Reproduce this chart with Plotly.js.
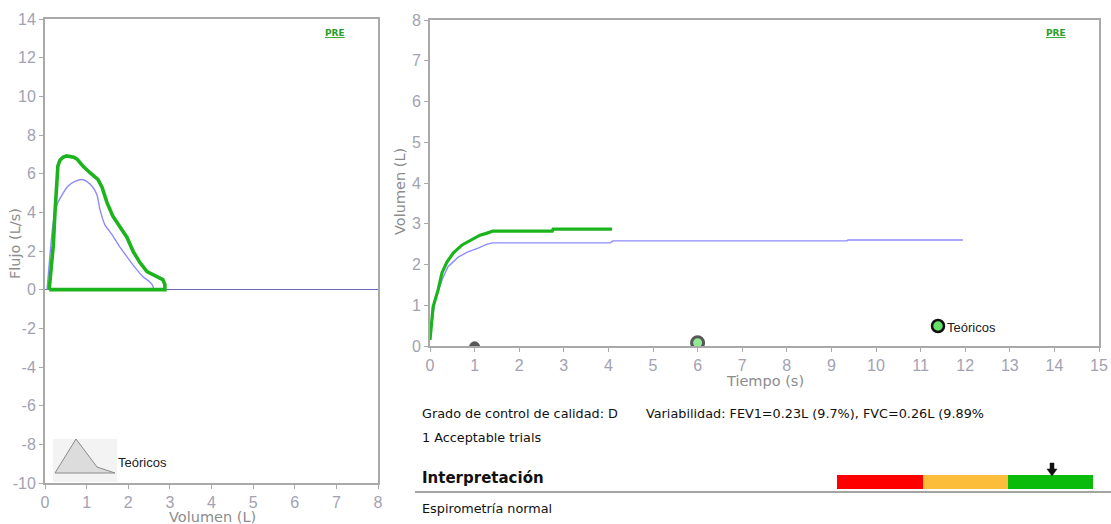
<!DOCTYPE html>
<html>
<head>
<meta charset="utf-8">
<script src="https://cdn.plot.ly/plotly-3.0.1.min.js"></script>
<style>
  html, body { margin: 0; padding: 0; background: #ffffff; }
  #chart { width: 1111px; height: 524px; }
</style>
</head>
<body>
<div id="chart"></div>
<script>
// Flow-volume loop, measured (PRE) trial
const fvVolumeMeasured = [0.10, 0.16, 0.20, 0.24, 0.29, 0.31, 0.36, 0.43, 0.52, 0.60, 0.69, 0.77, 0.91, 1.08, 1.27, 1.37, 1.49, 1.63, 1.80, 1.97, 2.12, 2.28, 2.45, 2.64, 2.76, 2.83, 2.88, 2.88, 0.10];
const fvFlowMeasured   = [0.00, 1.20, 2.30, 4.00, 5.80, 6.40, 6.70, 6.85, 6.92, 6.90, 6.85, 6.75, 6.40, 6.05, 5.70, 5.30, 4.50, 3.80, 3.25, 2.70, 1.97, 1.40, 0.93, 0.72, 0.62, 0.52, 0.26, 0.00, 0.00];

// Flow-volume, predicted (Teóricos)
const fvVolumePredicted = [0.05, 0.12, 0.19, 0.29, 0.41, 0.55, 0.72, 0.89, 1.00, 1.13, 1.25, 1.32, 1.44, 1.61, 1.80, 1.97, 2.16, 2.36, 2.52, 2.60, 2.60];
const fvFlowPredicted   = [0.00, 1.80, 3.35, 4.40, 4.90, 5.35, 5.60, 5.70, 5.60, 5.35, 4.90, 4.15, 3.35, 2.85, 2.20, 1.70, 1.15, 0.66, 0.40, 0.15, 0.00];

// Volume-time, measured (PRE) trial
const vtTimeMeasured   = [0.00, 0.07, 0.18, 0.27, 0.38, 0.52, 0.72, 0.94, 1.12, 1.28, 1.41, 2.74, 2.76, 4.08];
const vtVolumeMeasured = [0.15, 0.96, 1.37, 1.80, 2.06, 2.28, 2.48, 2.60, 2.72, 2.77, 2.82, 2.82, 2.87, 2.87];

// Volume-time, predicted (Teóricos)
const vtTimePredicted   = [0.00, 0.11, 0.27, 0.40, 0.63, 0.85, 1.08, 1.28, 1.41, 4.04, 4.10, 9.35, 9.37, 11.95];
const vtVolumePredicted = [0.15, 1.13, 1.62, 1.94, 2.18, 2.31, 2.40, 2.50, 2.53, 2.53, 2.58, 2.58, 2.60, 2.60];

// Time markers on the volume-time chart
const markerTimes   = [1, 6];
const markerVolumes = [-0.02, 0.08];

// Tick values
const fvVolumeTicks = [0, 1, 2, 3, 4, 5, 6, 7, 8];
const fvFlowTicks   = [-10, -8, -6, -4, -2, 0, 2, 4, 6, 8, 10, 12, 14];
const vtTimeTicks   = [0, 1, 2, 3, 4, 5, 6, 7, 8, 9, 10, 11, 12, 13, 14, 15];
const vtVolumeTicks = [0, 1, 2, 3, 4, 5, 6, 7, 8];

// Report text
const qualityText = 'Grado de control de calidad: D';
const variabilityText = 'Variabilidad: FEV1=0.23L (9.7%), FVC=0.26L (9.89%';
const trialsText = '1 Acceptable trials';
const interpretationTitle = 'Interpretación';
const interpretationText = 'Espirometría normal';
const legendLabel = 'Teóricos';
const preLabel = 'PRE';

const W = 1111, H = 524;
const px = x => x / W;
const py = y => 1 - y / H;

const GREEN = '#1cb41c';
const BLUE = '#8c8cff';
const AXIS = '#a9a9a9';
const TICKFONT = { family: 'Liberation Sans, Arial, sans-serif', size: 16, color: '#a2a2b2' };
const TITLEFONT = { family: 'DejaVu Sans, Verdana, sans-serif', size: 14.5, color: '#8c8c8c' };
const REPORTFONT = { family: 'DejaVu Sans, Verdana, sans-serif', size: 12.8, color: '#111111' };
const LEGENDFONT = { family: 'Liberation Sans, Arial, sans-serif', size: 13, color: '#222222' };

function axisBase(range, ticks) {
  return {
    range: range, tickvals: ticks, ticktext: ticks.map(String),
    showline: true, mirror: true, linecolor: AXIS, linewidth: 2,
    ticks: 'outside', ticklen: 4, tickcolor: AXIS, tickwidth: 1,
    showgrid: false, zeroline: false, tickfont: TICKFONT, fixedrange: true
  };
}

const traces = [
  { x: fvVolumePredicted, y: fvFlowPredicted, xaxis: 'x', yaxis: 'y', mode: 'lines',
    line: { color: BLUE, width: 1.4, shape: 'spline', smoothing: 0.5 }, name: legendLabel, hoverinfo: 'skip' },
  { x: fvVolumeMeasured, y: fvFlowMeasured, xaxis: 'x', yaxis: 'y', mode: 'lines',
    line: { color: GREEN, width: 3.6 }, name: preLabel, hoverinfo: 'skip' },
  { x: vtTimePredicted, y: vtVolumePredicted, xaxis: 'x2', yaxis: 'y2', mode: 'lines',
    line: { color: BLUE, width: 1.4 }, name: legendLabel, hoverinfo: 'skip' },
  { x: vtTimeMeasured, y: vtVolumeMeasured, xaxis: 'x2', yaxis: 'y2', mode: 'lines',
    line: { color: GREEN, width: 3.2 }, name: preLabel, hoverinfo: 'skip' },
  { x: markerTimes, y: markerVolumes, xaxis: 'x2', yaxis: 'y2', mode: 'markers',
    marker: { size: [10, 12], color: ['#111111', '#66e066'], line: { color: '#111111', width: [1, 3] } },
    cliponaxis: true, hoverinfo: 'skip' }
];

const xaxis = Object.assign(axisBase([0, 8], fvVolumeTicks), { domain: [px(45), px(378)], anchor: 'y' });
const yaxis = Object.assign(axisBase([-10, 14], fvFlowTicks), {
  domain: [py(483), py(19)], anchor: 'x',
  zeroline: true, zerolinecolor: '#6a6ab4', zerolinewidth: 1.6
});
const xaxis2 = Object.assign(axisBase([0, 15], vtTimeTicks), { domain: [px(430), px(1099)], anchor: 'y2' });
const yaxis2 = Object.assign(axisBase([0, 8], vtVolumeTicks), { domain: [py(346), py(20)], anchor: 'x2' });

function note(text, x, y, font, extra) {
  return Object.assign({ text: text, x: px(x), y: py(y), xref: 'paper', yref: 'paper',
    showarrow: false, font: font, xanchor: 'center', yanchor: 'middle' }, extra || {});
}

const annotations = [
  note('Flujo (L/s)', 15, 244, TITLEFONT, { textangle: -90 }),
  note('Volumen (L)', 212, 517, TITLEFONT),
  note('Volumen (L)', 400, 192, TITLEFONT, { textangle: -90 }),
  note('Tiempo (s)', 765, 381, TITLEFONT),
  note('<b><u>' + preLabel + '</u></b>', 335, 33, { family: 'DejaVu Sans, sans-serif', size: 9, color: '#2a9e2a' }),
  note('<b><u>' + preLabel + '</u></b>', 1056, 33, { family: 'DejaVu Sans, sans-serif', size: 9, color: '#2a9e2a' }),
  note(legendLabel, 116, 463, LEGENDFONT, { xanchor: 'left' }),
  note(legendLabel, 945, 327, LEGENDFONT, { xanchor: 'left' }),
  note(qualityText, 420, 413, REPORTFONT, { xanchor: 'left' }),
  note(variabilityText, 644, 413, REPORTFONT, { xanchor: 'left' }),
  note(trialsText, 420, 437, REPORTFONT, { xanchor: 'left' }),
  note('<b>' + interpretationTitle + '</b>', 420, 478, { family: 'DejaVu Sans, Verdana, sans-serif', size: 15, color: '#111111' }, { xanchor: 'left' }),
  note(interpretationText, 420, 508, REPORTFONT, { xanchor: 'left' })
];

function pathPx(points) {
  return 'M ' + points.map(p => px(p[0]) + ',' + py(p[1])).join(' L ') + ' Z';
}

const shapes = [
  // flow-volume legend icon
  { type: 'rect', xref: 'paper', yref: 'paper', x0: px(53), x1: px(117), y0: py(482), y1: py(439),
    fillcolor: '#f3f3f3', line: { width: 0 }, layer: 'above' },
  { type: 'path', xref: 'paper', yref: 'paper', path: pathPx([[55, 473], [76, 439], [97, 467], [115, 473]]),
    fillcolor: '#dcdcdc', line: { color: '#8a8a8a', width: 1 }, layer: 'above' },
  // volume-time legend marker
  { type: 'circle', xref: 'paper', yref: 'paper', x0: px(932), x1: px(944), y0: py(332), y1: py(320),
    fillcolor: '#66e066', line: { color: '#111111', width: 2.5 }, layer: 'above' },
  // interpretation scale
  { type: 'rect', xref: 'paper', yref: 'paper', x0: px(837), x1: px(923), y0: py(489), y1: py(475),
    fillcolor: '#ff0000', line: { width: 0 } },
  { type: 'rect', xref: 'paper', yref: 'paper', x0: px(923), x1: px(1008), y0: py(489), y1: py(475),
    fillcolor: '#fbbd3a', line: { width: 0 } },
  { type: 'rect', xref: 'paper', yref: 'paper', x0: px(1008), x1: px(1093), y0: py(489), y1: py(475),
    fillcolor: '#0bbb0b', line: { width: 0 } },
  { type: 'path', xref: 'paper', yref: 'paper',
    path: pathPx([[1050, 463], [1054, 463], [1054, 469], [1057, 469], [1052, 476], [1047, 469], [1050, 469]]),
    fillcolor: '#111111', line: { color: '#111111', width: 0.5 } },
  // separator under the interpretation title
  { type: 'line', xref: 'paper', yref: 'paper', x0: px(415), x1: px(1111), y0: py(492), y1: py(492),
    line: { color: '#a4a4a4', width: 2 } }
];

const layout = {
  width: W, height: H,
  margin: { l: 0, r: 0, t: 0, b: 0 },
  paper_bgcolor: '#ffffff', plot_bgcolor: '#ffffff',
  font: { family: 'Liberation Sans, Arial, sans-serif' },
  showlegend: false,
  xaxis: xaxis, yaxis: yaxis, xaxis2: xaxis2, yaxis2: yaxis2,
  annotations: annotations, shapes: shapes
};

Plotly.newPlot('chart', traces, layout, { displayModeBar: false, staticPlot: true });
</script>
</body>
</html>
